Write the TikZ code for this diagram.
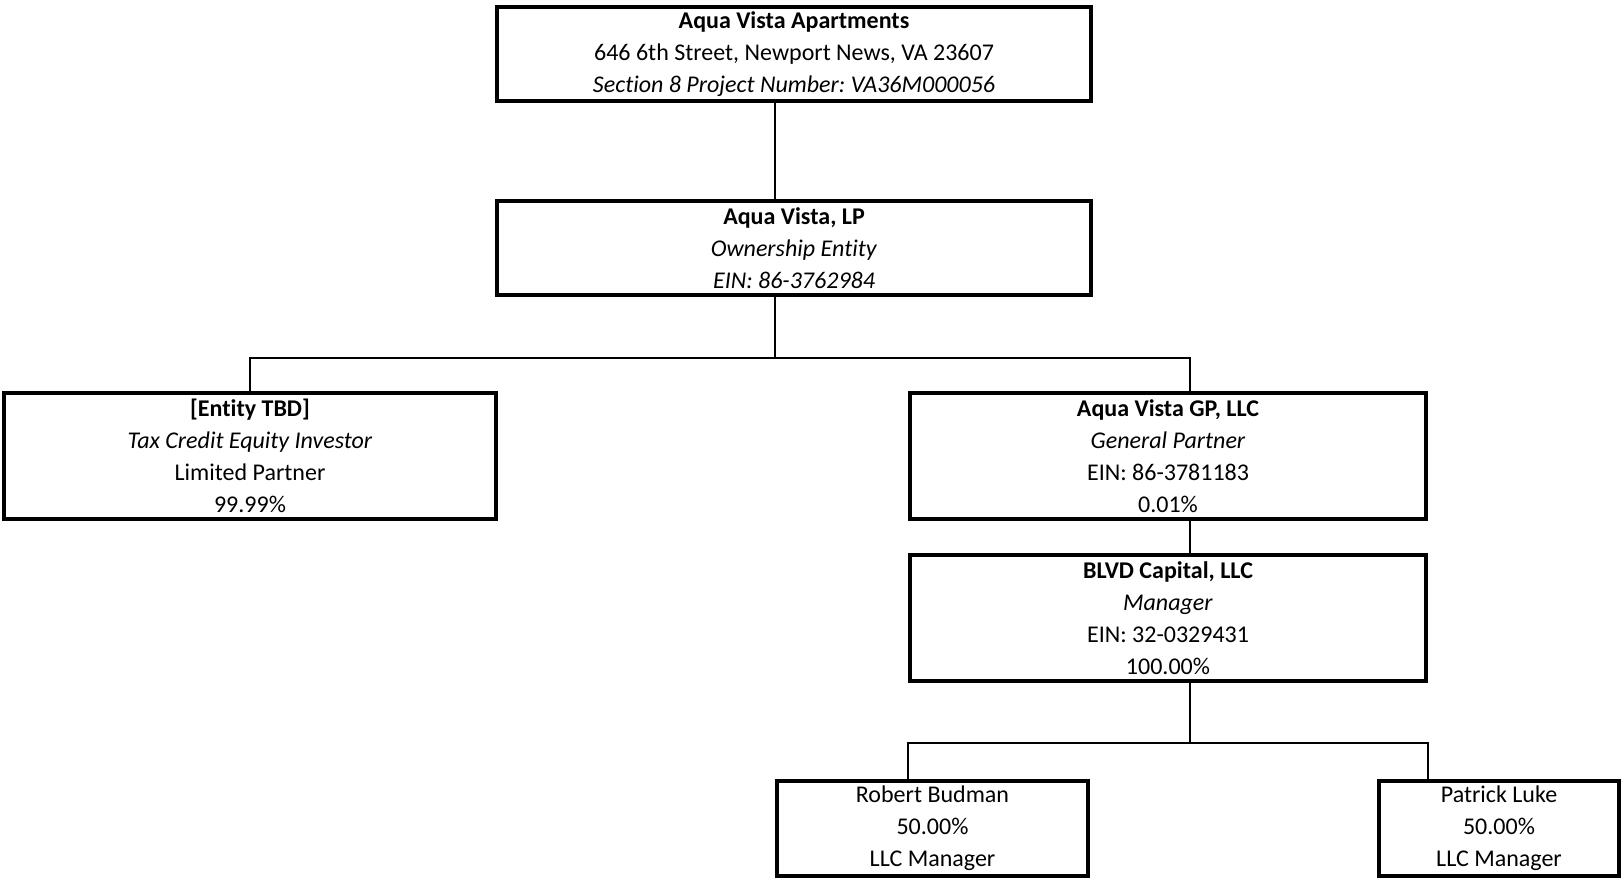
\documentclass[tikz,border=0pt]{standalone}
\usepackage{fontspec}
\setmainfont{Carlito}[Ligatures=NoCommon]
\frenchspacing
\begin{document}
\begin{tikzpicture}[x=0.5pt,y=-0.5pt,
  orgbox/.style={draw=black, line width=2.1pt, fill=white, rectangle, inner sep=0pt, align=center,
    font=\fontsize{12}{16}\selectfont},
  conn/.style={draw=black, line width=1.1pt}]
\useasboundingbox (0,0) rectangle (1623,878);
% boxes
\node[orgbox, minimum width=297pt, minimum height=47pt] (top) at (794,54)
  {\textbf{Aqua Vista Apartments}\\646 6th Street, Newport News, VA 23607\\\textit{Section 8 Project Number: VA36M000056}};
\node[orgbox, minimum width=297pt, minimum height=47pt] (lp) at (794,248)
  {\textbf{Aqua Vista, LP}\\\textit{Ownership Entity}\\\textit{EIN: 86-3762984}};
\node[orgbox, minimum width=246pt, minimum height=63pt] (tbd) at (250,456)
  {\textbf{[Entity TBD]}\\\textit{Tax Credit Equity Investor}\\Limited Partner\\99.99\%};
\node[orgbox, minimum width=258pt, minimum height=63pt] (gp) at (1168,456)
  {\textbf{Aqua Vista GP, LLC}\\\textit{General Partner}\\EIN: 86-3781183\\0.01\%};
\node[orgbox, minimum width=258pt, minimum height=63pt] (blvd) at (1168,618)
  {\textbf{BLVD Capital, LLC}\\\textit{Manager}\\EIN: 32-0329431\\100.00\%};
\node[orgbox, minimum width=155.5pt, minimum height=47.5pt] (rob) at (932.5,828.5)
  {Robert Budman\\50.00\%\\LLC Manager};
\node[orgbox, minimum width=120pt, minimum height=47.5pt] (pat) at (1499,828.5)
  {Patrick Luke\\50.00\%\\LLC Manager};
% junctions
\coordinate (j1) at (775,358);
\coordinate (gpx) at (1190,358);
\coordinate (j2) at (1190,743);
% connectors
\draw[conn] (top.south -| j1) -- (lp.north -| j1);
\draw[conn] (lp.south -| j1) -- (j1);
\draw[conn] (tbd.north) |- (gpx) -- (gp.north -| gpx);
\draw[conn] (gp.south -| gpx) -- (blvd.north -| gpx);
\draw[conn] (blvd.south -| j2) -- (j2);
\draw[conn] (rob.north -| blvd.west) |- (j2) -| (pat.north -| blvd.east);
\end{tikzpicture}
\end{document}
